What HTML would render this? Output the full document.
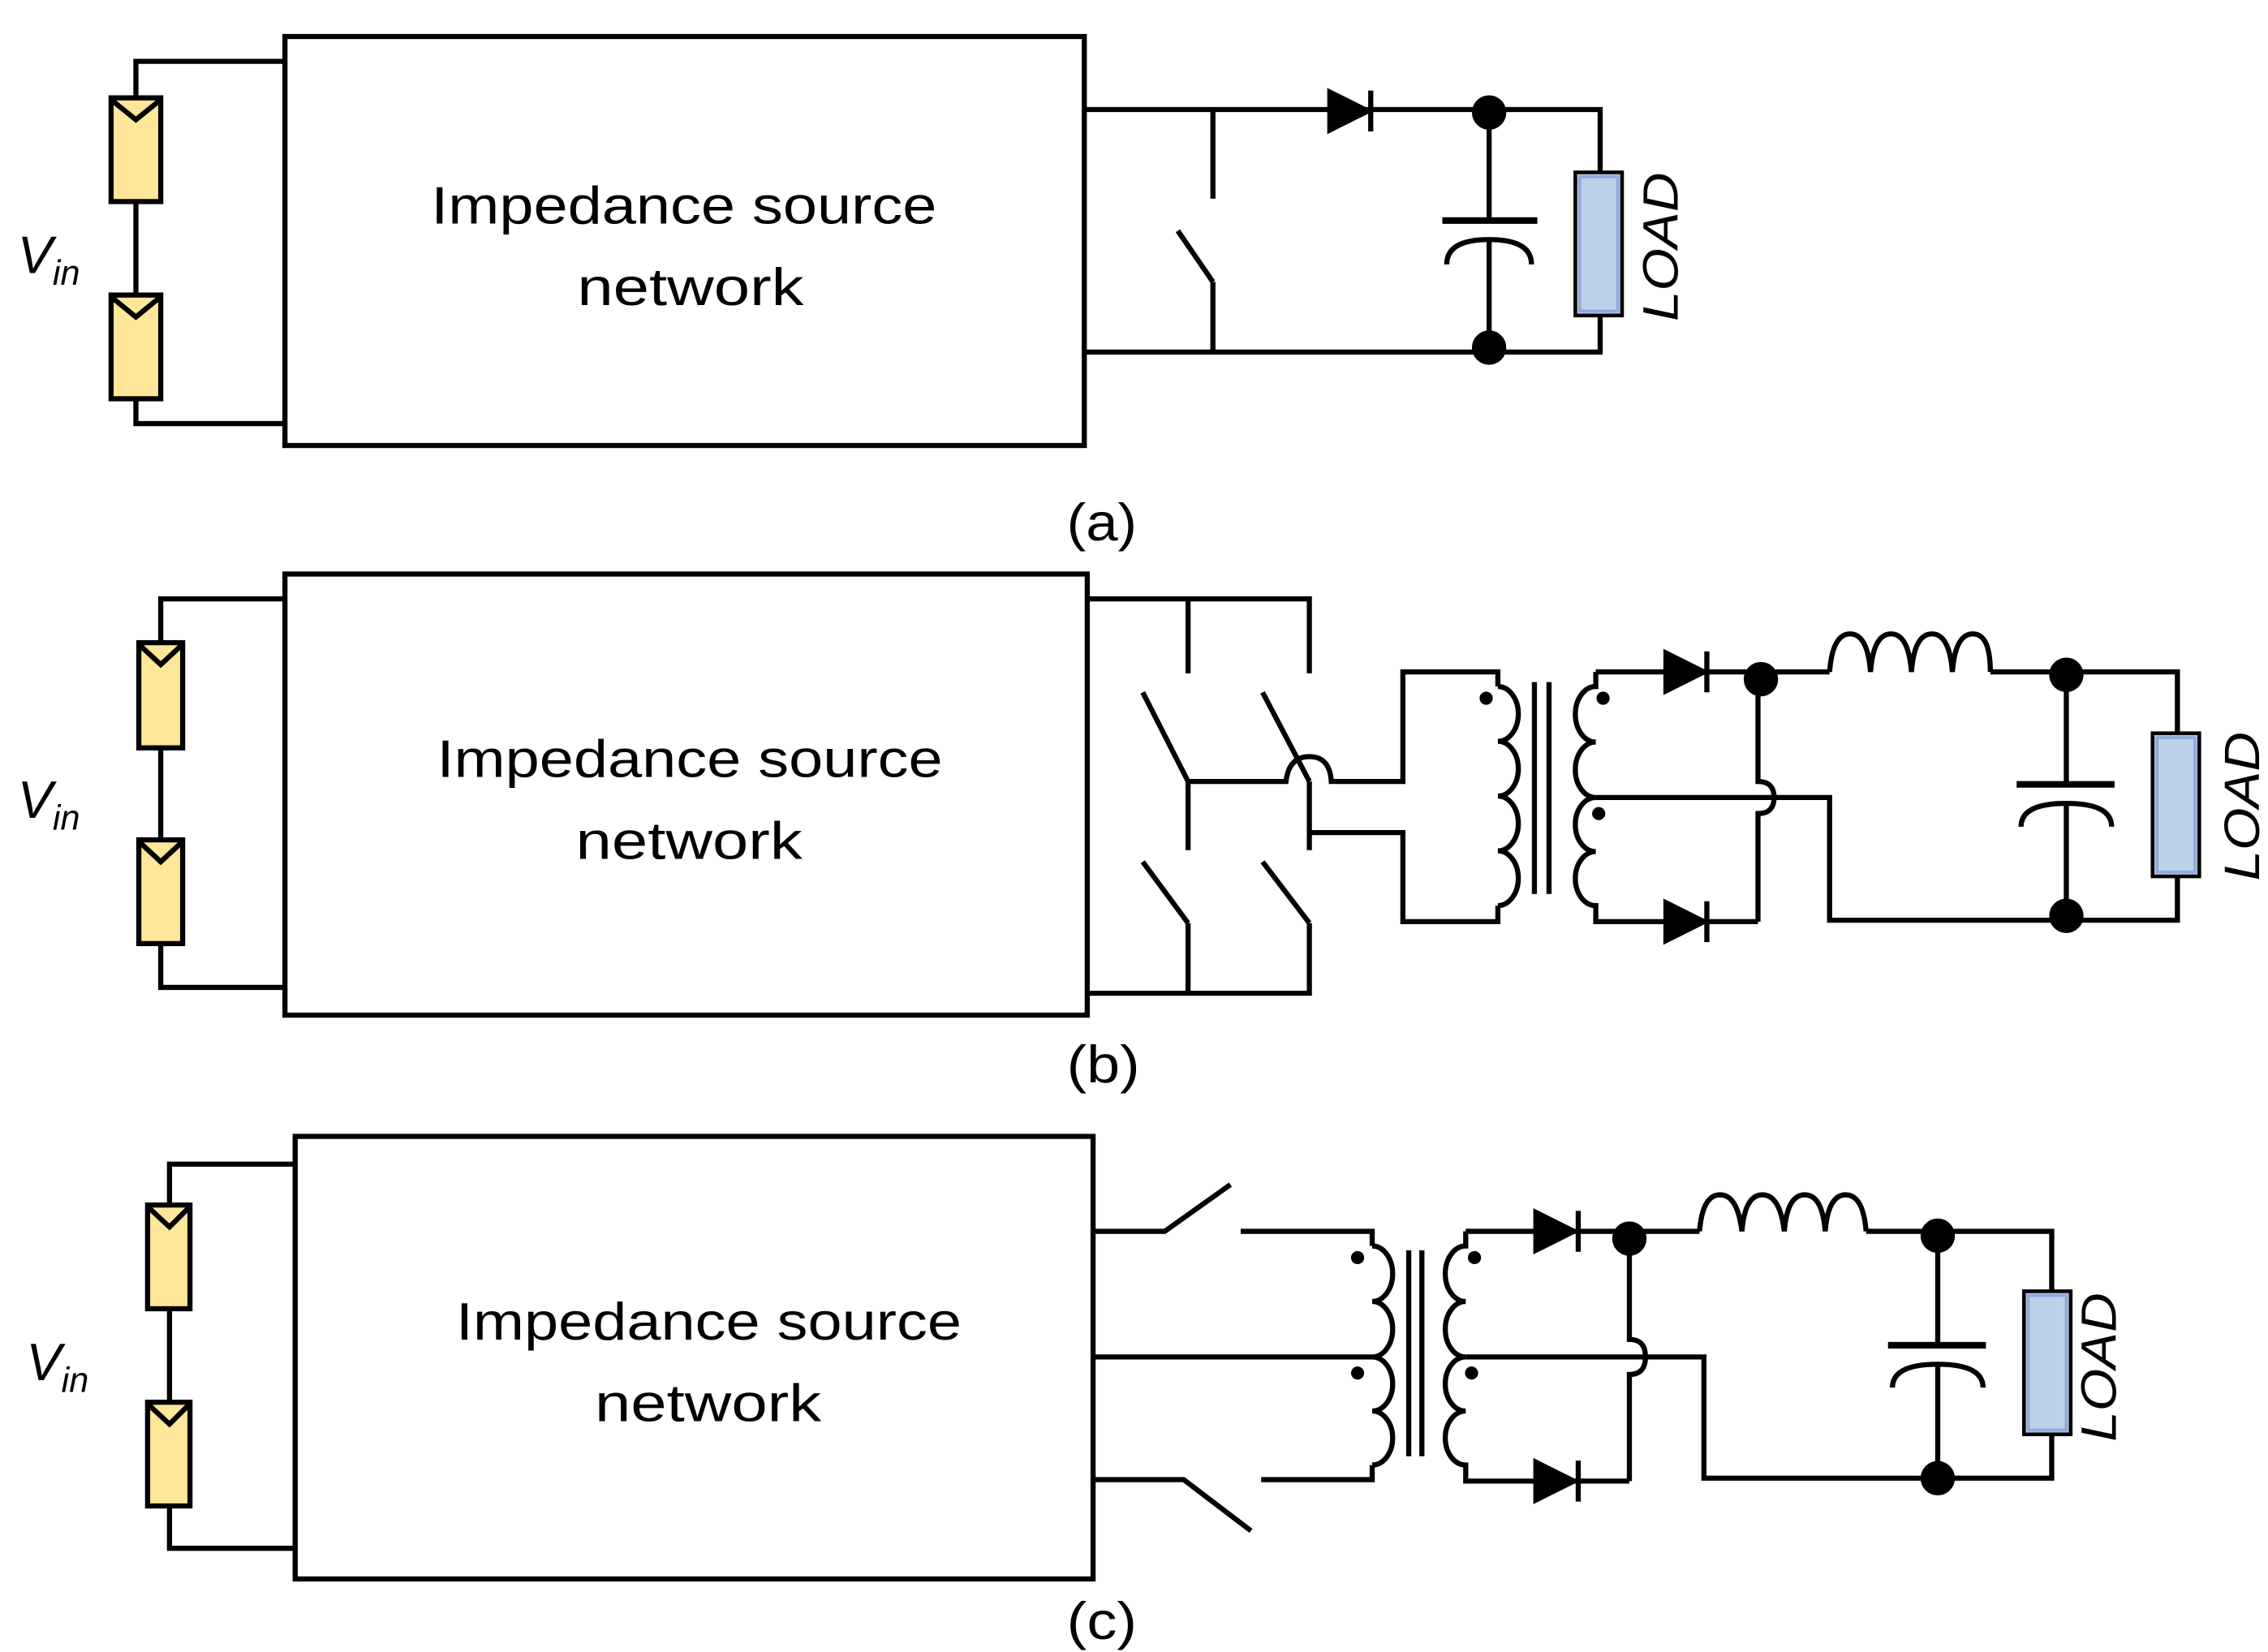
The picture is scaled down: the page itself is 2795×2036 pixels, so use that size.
<!DOCTYPE html>
<html><head><meta charset="utf-8"><style>
html,body{margin:0;padding:0;background:#fff;}
svg{display:block;}
text{font-family:"Liberation Sans",sans-serif;fill:#000;}
</style></head><body>
<svg width="2795" height="2036" viewBox="0 0 1552 1131" preserveAspectRatio="none" xmlns="http://www.w3.org/2000/svg">
<g fill="none" stroke="#000" stroke-width="3.5" stroke-linejoin="miter">
<!-- ===== (a) ===== -->
<rect x="195" y="25" width="547" height="280"/>
<polyline points="195,42 93,42 93,67"/>
<line x1="93" y1="138" x2="93" y2="202"/>
<polyline points="93,273 93,290 195,290"/>
<rect x="76" y="67" width="34" height="71" fill="#FFE699"/>
<polyline points="77,69 93,82 109,69"/>
<rect x="76" y="202" width="34" height="71" fill="#FFE699"/>
<polyline points="77,204 93,217 109,204"/>
<polyline points="742,75 1095,75 1095,118"/>
<polyline points="742,241 1095,241 1095,216"/>
<line x1="830" y1="75" x2="830" y2="136"/>
<line x1="806" y1="158" x2="830" y2="193"/>
<line x1="830" y1="193" x2="830" y2="241"/>
<polygon points="910,63 910,89 936,76" fill="#000"/>
<line x1="938" y1="62" x2="938" y2="90"/>
<line x1="1019" y1="75" x2="1019" y2="150"/>
<line x1="987" y1="151" x2="1052" y2="151" stroke-width="4.5"/>
<path d="M990,181 Q990,164 1019,164 Q1048,164 1048,181"/>
<line x1="1019" y1="164" x2="1019" y2="241"/>
<circle cx="1019" cy="77" r="10" fill="#000"/>
<circle cx="1019" cy="238" r="10" fill="#000"/>
<rect x="1078" y="118" width="32" height="98" fill="#B4C7E7" stroke="#000" stroke-width="2.5"/>
<rect x="1081" y="121" width="26" height="92" fill="#BDD0EA" stroke="#8FAADC" stroke-width="2"/>

<!-- ===== (b) ===== -->
<rect x="195" y="393" width="549" height="302"/>
<polyline points="195,410 110,410 110,440"/>
<line x1="110" y1="512" x2="110" y2="575"/>
<polyline points="110,646 110,676 195,676"/>
<rect x="95" y="440" width="30" height="72" fill="#FFE699"/>
<polyline points="96,442 110,455 124,442"/>
<rect x="95" y="575" width="30" height="71" fill="#FFE699"/>
<polyline points="96,577 110,590 124,577"/>
<polyline points="744,410 896,410 896,461"/>
<line x1="813" y1="410" x2="813" y2="461"/>
<line x1="782" y1="474" x2="813" y2="535"/>
<line x1="864" y1="474" x2="896" y2="535"/>
<line x1="813" y1="535" x2="813" y2="582"/>
<line x1="896" y1="535" x2="896" y2="582"/>
<line x1="782" y1="590" x2="813" y2="632"/>
<line x1="864" y1="590" x2="896" y2="632"/>
<polyline points="813,632 813,680 744,680 896,680 896,632"/>
<path d="M813,535 L880,535 Q882,518 896,518 Q910,518 911,535 L960,535 L960,460 L1025,460 L1025,470"/>
<polyline points="896,570 960,570 960,631 1025,631 1025,620"/>
<path d="M1025,470 A14,18.75 0 0 1 1025,507.5 A14,18.75 0 0 1 1025,545 A14,18.75 0 0 1 1025,582.5 A14,18.75 0 0 1 1025,620"/>
<line x1="1050" y1="467" x2="1050" y2="612"/>
<line x1="1060" y1="467" x2="1060" y2="612"/>
<path d="M1092,460 L1092,470 A14,19 0 0 0 1092,508 A14,19 0 0 0 1092,546 A14,18.5 0 0 0 1092,583 A14,18.5 0 0 0 1092,620 L1092,631 L1203,631"/>
<polyline points="1092,460 1205,460"/>
<polyline points="1092,546 1252,546 1252,630 1490,630 1490,600"/>
<path d="M1203,465 L1203,535 Q1214,535 1214,546 Q1214,557 1203,557 L1203,631"/>
<circle cx="1017" cy="478" r="4.5" fill="#000" stroke="none"/>
<circle cx="1097" cy="478" r="4.5" fill="#000" stroke="none"/>
<circle cx="1094" cy="557" r="4.5" fill="#000" stroke="none"/>
<polygon points="1140,447 1140,473 1166,460" fill="#000"/>
<line x1="1168" y1="446" x2="1168" y2="474"/>
<polygon points="1140,618 1140,644 1166,631" fill="#000"/>
<line x1="1168" y1="617" x2="1168" y2="645"/>
<circle cx="1205" cy="465" r="10" fill="#000"/>
<line x1="1205" y1="460" x2="1252" y2="460"/>
<path d="M1252,460 Q1254,434 1266,434 Q1278,434 1280,460 Q1282,434 1294,434 Q1306,434 1308,460 Q1310,434 1322,434 Q1334,434 1336,460 Q1338,434 1350,434 Q1362,434 1362,460"/>
<polyline points="1362,460 1490,460 1490,502"/>
<line x1="1414" y1="460" x2="1414" y2="536"/>
<line x1="1380" y1="537" x2="1447" y2="537" stroke-width="4.5"/>
<path d="M1383,566 Q1383,550 1414,550 Q1445,550 1445,566"/>
<line x1="1414" y1="550" x2="1414" y2="630"/>
<circle cx="1414" cy="462" r="10" fill="#000"/>
<circle cx="1414" cy="627" r="10" fill="#000"/>
<rect x="1473" y="502" width="32" height="98" fill="#B4C7E7" stroke="#000" stroke-width="2.5"/>
<rect x="1476" y="505" width="26" height="92" fill="#BDD0EA" stroke="#8FAADC" stroke-width="2"/>

<!-- ===== (c) ===== -->
<rect x="202" y="778" width="546" height="303"/>
<polyline points="202,797 116,797 116,825"/>
<line x1="116" y1="896" x2="116" y2="960"/>
<polyline points="116,1031 116,1060 202,1060"/>
<rect x="101" y="825" width="29" height="71" fill="#FFE699"/>
<polyline points="102,827 116,840 129,827"/>
<rect x="101" y="960" width="29" height="71" fill="#FFE699"/>
<polyline points="102,962 116,975 129,962"/>
<polyline points="748,843 797,843 842,811"/>
<polyline points="849,843 939,843 939,853"/>
<line x1="748" y1="929" x2="939" y2="929"/>
<polyline points="748,1013 810,1013 856,1048"/>
<polyline points="863,1013 939,1013 939,1003"/>
<path d="M939,853 A14,19 0 0 1 939,891 A14,19 0 0 1 939,929 A14,18.5 0 0 1 939,966 A14,18.5 0 0 1 939,1003"/>
<line x1="964" y1="856" x2="964" y2="997"/>
<line x1="973" y1="856" x2="973" y2="997"/>
<path d="M1003,843 L1003,853 A14,19 0 0 0 1003,891 A14,19 0 0 0 1003,929 A14,18.5 0 0 0 1003,966 A14,18.5 0 0 0 1003,1003 L1003,1014 L1115,1014"/>
<line x1="1003" y1="843" x2="1115" y2="843"/>
<polyline points="1003,929 1166,929 1166,1012 1404,1012 1404,982"/>
<path d="M1115,848 L1115,917 Q1126,917 1126,929 Q1126,941 1115,941 L1115,1014"/>
<circle cx="929" cy="861" r="4.5" fill="#000" stroke="none"/>
<circle cx="929" cy="940" r="4.5" fill="#000" stroke="none"/>
<circle cx="1009" cy="861" r="4.5" fill="#000" stroke="none"/>
<circle cx="1007" cy="940" r="4.5" fill="#000" stroke="none"/>
<polygon points="1051,830 1051,856 1077,843" fill="#000"/>
<line x1="1080" y1="829" x2="1080" y2="857"/>
<polygon points="1051,1001 1051,1027 1077,1014" fill="#000"/>
<line x1="1080" y1="1000" x2="1080" y2="1028"/>
<circle cx="1115" cy="848" r="10" fill="#000"/>
<line x1="1115" y1="843" x2="1163" y2="843"/>
<path d="M1163,843 Q1165,818 1177,818 Q1189,818 1192,843 Q1194,818 1206,818 Q1218,818 1221,843 Q1223,818 1235,818 Q1247,818 1249,843 Q1251,818 1263,818 Q1275,818 1277,843"/>
<polyline points="1277,843 1404,843 1404,883"/>
<line x1="1326" y1="843" x2="1326" y2="920"/>
<line x1="1292" y1="921" x2="1359" y2="921" stroke-width="4.5"/>
<path d="M1295,950 Q1295,934 1326,934 Q1357,934 1357,950"/>
<line x1="1326" y1="934" x2="1326" y2="1012"/>
<circle cx="1326" cy="846" r="10" fill="#000"/>
<circle cx="1326" cy="1012" r="10" fill="#000"/>
<rect x="1385" y="884" width="32" height="98" fill="#B4C7E7" stroke="#000" stroke-width="2.5"/>
<rect x="1388" y="887" width="26" height="92" fill="#BDD0EA" stroke="#8FAADC" stroke-width="2"/>
</g>

<!-- text -->
<g font-size="36">
<text x="295" y="153" textLength="346" lengthAdjust="spacingAndGlyphs">Impedance source</text>
<text x="395" y="209" textLength="155" lengthAdjust="spacingAndGlyphs">network</text>
<text x="299" y="532" textLength="346" lengthAdjust="spacingAndGlyphs">Impedance source</text>
<text x="394" y="588" textLength="155" lengthAdjust="spacingAndGlyphs">network</text>
<text x="312" y="917" textLength="346" lengthAdjust="spacingAndGlyphs">Impedance source</text>
<text x="407" y="973" textLength="155" lengthAdjust="spacingAndGlyphs">network</text>
<text x="730" y="370" textLength="48" lengthAdjust="spacingAndGlyphs">(a)</text>
<text x="730" y="741" textLength="50" lengthAdjust="spacingAndGlyphs">(b)</text>
<text x="730" y="1122" textLength="48" lengthAdjust="spacingAndGlyphs">(c)</text>
</g>
<g font-style="italic">
<text x="12" y="187" font-size="36">V<tspan font-size="24" dy="8">in</tspan></text>
<text x="12" y="560" font-size="36">V<tspan font-size="24" dy="8">in</tspan></text>
<text x="18" y="945" font-size="36">V<tspan font-size="24" dy="8">in</tspan></text>
<text transform="translate(1148,220) rotate(-90)" font-size="34" textLength="102" lengthAdjust="spacingAndGlyphs">LOAD</text>
<text transform="translate(1546,603) rotate(-90)" font-size="34" textLength="102" lengthAdjust="spacingAndGlyphs">LOAD</text>
<text transform="translate(1448,987) rotate(-90)" font-size="34" textLength="102" lengthAdjust="spacingAndGlyphs">LOAD</text>
</g>
</svg>
</body></html>
